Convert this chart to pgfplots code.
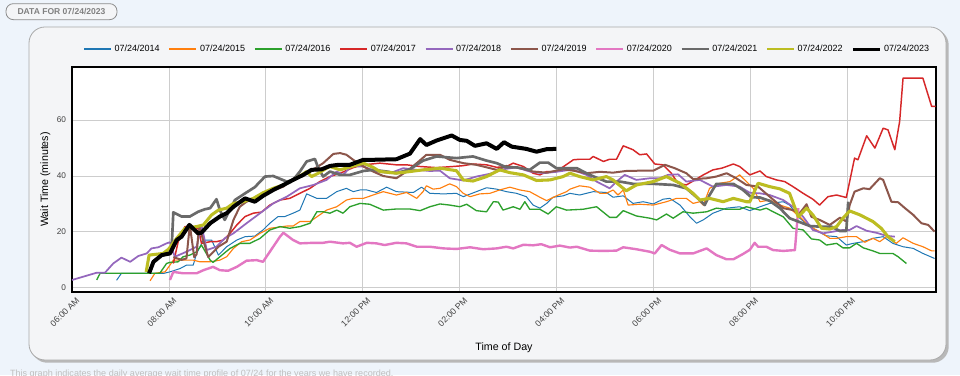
\documentclass[border=0pt]{standalone}
\usepackage{fontspec}
\setmainfont{Liberation Sans}
\usepackage{pgfplots}
\pgfplotsset{compat=1.18}
\definecolor{cA}{HTML}{1F77B4}
\definecolor{cB}{HTML}{FF7F0E}
\definecolor{cC}{HTML}{2CA02C}
\definecolor{cD}{HTML}{D62728}
\definecolor{cE}{HTML}{9467BD}
\definecolor{cF}{HTML}{8C564B}
\definecolor{cG}{HTML}{E377C2}
\definecolor{cH}{HTML}{6A6A6A}
\definecolor{cI}{HTML}{BCBD22}
\definecolor{bgblue}{HTML}{EEF4FB}
\definecolor{panel}{HTML}{F4F5F7}
\definecolor{panelborder}{HTML}{A9A9A9}
\definecolor{gridc}{HTML}{CDCDCD}
\definecolor{tickc}{HTML}{404040}
\begin{document}
\begin{tikzpicture}
\path[use as bounding box] (0pt,0pt) rectangle (720pt,281.25pt);
\fill[bgblue] (0pt,0pt) rectangle (720pt,281.25pt);
% shadow and panel
\fill[black!28, rounded corners=12pt] (23.5pt,9.2pt) rectangle (711.5pt,259.5pt);
\fill[panel, draw=panelborder, line width=0.6pt, rounded corners=12pt] (21.75pt,11.25pt) rectangle (709.5pt,261pt);
% top label
\draw[black!45, fill=panel, line width=0.6pt, rounded corners=5.5pt] (4.5pt,266.5pt) rectangle (87.75pt,278.5pt);
\node[text=black!50, font=\bfseries\fontsize{6.4}{7}\selectfont] at (46.1pt,272.4pt) {DATA FOR 07/24/2023};
% bottom caption (cut off)
\node[anchor=west, text=black!25, font=\fontsize{6.8}{7}\selectfont] at (4pt,0.6pt) {This graph indicates the daily average wait time profile of 07/24 for the years we have recorded.};
\begin{axis}[
  at={(54pt,62.25pt)}, anchor=south west,
  width=648pt, height=168.75pt, scale only axis,
  xmin=6, xmax=23.82, ymin=-1.5, ymax=79,
  xtick={6,8,...,22},
  xticklabels={06:00 AM,08:00 AM,10:00 AM,12:00 PM,02:00 PM,04:00 PM,06:00 PM,08:00 PM,10:00 PM},
  ytick={0,20,40,60},
  grid=major,
  major grid style={gridc, line width=0.7pt},
  axis line style={black, line width=1.1pt},
  major tick length=0pt,
  axis background/.style={fill=white},
  /pgf/number format/assume math mode=true,
  x tick label style={rotate=45, anchor=north east, font=\fontsize{6.5}{7}\selectfont, text=tickc, xshift=3pt, yshift=-1pt},
  y tick label style={font=\fontsize{6.2}{7}\selectfont, text=tickc, xshift=-1pt},
  xlabel={Time of Day},
  ylabel={Wait Time (minutes)},
  label style={font=\fontsize{8}{9}\selectfont},
  xlabel style={at={(0.5,0)}, anchor=center, yshift=-42pt},
  ylabel style={at={(0,0.5)}, anchor=center, yshift=20pt},
  legend columns=10,
  legend style={at={(0.504,1.078)}, anchor=center, draw=none, fill=none,
    font=\fontsize{6.75}{8}\selectfont,
    /tikz/every even column/.append style={column sep=4.5pt}},
  legend image code/.code={\draw[#1,line width=1.5pt] (0pt,0pt) -- (20.25pt,0pt);},
  every axis plot/.append style={line join=round},
]
% 2014
\addplot[cA, line width=0.75pt] coordinates {
(6.92,2.7) (7.02,5.2) (7.9,5.2) (8.02,5.7) (8.23,6.9) (8.36,8.1) (8.50,8.1) (8.57,12.3) (8.71,17.1) (8.88,17.1) (9.02,11.7) (9.19,14.7) (9.40,17.1) (9.57,18.3) (9.77,18.5) (9.94,20.7) (10.08,23.1) (10.25,25.5) (10.39,25.5) (10.56,26.7) (10.70,27.8) (10.84,33.6) (11.05,32) (11.25,32) (11.46,34.4) (11.66,35.6) (11.80,34.4) (11.94,35) (12.08,35) (12.28,34.1) (12.49,36) (12.69,34.4) (13.04,34.1) (13.21,36) (13.38,33.8) (13.66,33.6) (13.93,33.8) (14.07,32.6) (14.34,34.4) (14.55,35.8) (14.76,35.3) (14.96,34.4) (15.17,33.8) (15.37,32.6) (15.51,29.6) (15.65,28.5) (15.79,30.2) (15.92,32.4) (16.13,32.9) (16.27,33.8) (16.47,33.2) (16.75,34.4) (17.02,34.1) (17.16,32.4) (17.37,32.9) (17.57,30.2) (17.78,30.8) (17.99,30) (18.19,31.7) (18.33,32) (18.54,29.6) (18.74,25.5) (18.88,23.1) (19.02,24.3) (19.22,26.7) (19.50,28.5) (19.77,29) (19.98,27.6) (20.19,29) (20.39,30.2) (20.67,30.8) (20.80,29.6) (21.01,24.9) (21.22,21.9) (21.39,20.1) (21.56,18.6) (21.77,18.3) (21.97,15.3) (22.11,15.9) (22.32,16.5) (22.52,17.7) (22.73,18.3) (22.93,15.9) (23.14,14.7) (23.35,14.1) (23.55,12.3) (23.79,10.5)
};
\addlegendentry{07/24/2014}
% 2015
\addplot[cB, line width=0.85pt] coordinates {
(7.61,2.5) (7.71,5.2) (7.92,5.7) (8.02,8.1) (8.09,9.9) (8.29,9.9) (8.50,9.9) (8.64,9.3) (8.85,9.3) (9.05,9.9) (9.19,11.1) (9.33,14.1) (9.50,16.5) (9.67,17.1) (9.88,19.5) (10.08,21.3) (10.22,21.6) (10.43,22.1) (10.56,22.1) (10.70,23.7) (10.91,23.7) (11.11,26.1) (11.25,27.8) (11.46,29) (11.66,31.4) (11.80,32) (12.01,32) (12.21,33.2) (12.42,34.4) (12.69,33.2) (12.90,34.1) (13.11,32) (13.24,34.4) (13.31,36.5) (13.45,35.3) (13.59,35.6) (13.79,37.2) (13.93,36.2) (14.07,33.8) (14.21,32.6) (14.41,33.6) (14.62,33.8) (14.82,35) (15.03,36) (15.24,35) (15.44,34.4) (15.65,32.4) (15.79,31.2) (15.99,32.9) (16.20,34.4) (16.27,35.3) (16.47,36.5) (16.68,36) (16.89,33.8) (17.02,33.8) (17.16,35) (17.26,33.2) (17.37,35) (17.47,29.6) (17.71,29.9) (17.99,29.6) (18.26,30.8) (18.47,32) (18.67,32) (18.81,30.2) (18.95,30.8) (19.02,29.6) (19.15,35.6) (19.36,37.4) (19.57,38) (19.77,40.4) (19.91,38) (20.05,35.6) (20.19,30.8) (20.39,31.4) (20.60,29.6) (20.80,28.5) (21.01,25.4) (21.22,21.9) (21.42,20.1) (21.63,17.7) (21.77,17.7) (21.97,18.3) (22.18,18.3) (22.35,16.3) (22.52,17.7) (22.66,16.5) (22.80,18.3) (23.00,15.9) (23.14,17.9) (23.35,15.9) (23.55,14.7) (23.73,13.2) (23.79,13.2)
};
\addlegendentry{07/24/2015}
% 2016
\addplot[cC, line width=1pt] coordinates {
(6.51,2.8) (6.58,5.2) (7.81,5.2) (7.95,8.7) (8.02,9.1) (8.19,9.3) (8.29,11.1) (8.43,11.7) (8.57,12.9) (8.67,15.3) (8.85,9.9) (8.91,9.1) (9.05,11.1) (9.26,14.1) (9.46,15.9) (9.67,15.9) (9.88,17.7) (10.08,20.7) (10.29,21.9) (10.49,21.3) (10.70,21.9) (10.91,23.1) (11.05,27.2) (11.18,27.2) (11.32,26.7) (11.46,27.8) (11.59,26.7) (11.73,29) (11.94,30.2) (12.14,29.9) (12.42,27.8) (12.69,28.2) (12.97,28.2) (13.18,27.6) (13.38,29) (13.59,30) (13.79,29.6) (14.00,29) (14.14,29.9) (14.34,27.6) (14.55,27.2) (14.69,30.8) (14.79,30.7) (14.89,27.8) (15.10,29) (15.24,28.1) (15.34,30.8) (15.44,28.1) (15.65,28.1) (15.82,26.4) (15.99,29) (16.20,27.8) (16.54,28.1) (16.82,29) (17.09,25.2) (17.23,25.2) (17.37,27.6) (17.64,25.7) (17.92,24.9) (18.06,24.3) (18.26,26.4) (18.40,24.9) (18.60,27.2) (18.81,26.7) (19.09,27.2) (19.29,28.5) (19.50,28.1) (19.77,28.1) (19.91,29) (20.19,27.8) (20.32,28.5) (20.46,27.2) (20.67,25.4) (20.87,21.3) (21.08,20.7) (21.25,17.5) (21.42,17.1) (21.56,15.3) (21.77,15.9) (21.90,14.3) (22.04,14.3) (22.18,15.9) (22.32,14.3) (22.52,13.2) (22.66,12.3) (22.93,12.3) (23.04,11.1) (23.21,8.7)
};
\addlegendentry{07/24/2016}
% 2017
\addplot[cD, line width=1.1pt] coordinates {
(8.09,8.7) (8.19,16.5) (8.33,21.9) (8.43,21.9) (8.54,20.1) (8.60,22) (8.67,15.9) (8.85,16.5) (8.98,16.5) (9.12,17.1) (9.26,19.5) (9.40,22.5) (9.57,25.5) (9.74,26.7) (9.91,27.1) (10.08,29.6) (10.29,31.4) (10.49,32) (10.70,33.8) (10.91,35.6) (11.11,38) (11.32,39.8) (11.53,41) (11.80,43) (12.01,44) (12.35,44.6) (12.69,44) (12.90,44) (13.18,43.4) (13.52,43) (13.86,43.4) (14.07,43.7) (14.27,44.3) (14.55,44) (14.76,43.1) (14.96,43.4) (15.10,44.6) (15.31,43.4) (15.51,41) (15.65,40.4) (15.79,41.6) (15.99,41.6) (16.34,45.8) (16.47,46) (16.68,46) (16.75,47) (16.96,45.2) (17.09,46) (17.23,46) (17.37,50.8) (17.57,49.4) (17.71,47.6) (17.85,47.9) (18.02,44.3) (18.19,44) (18.36,41) (18.50,37.4) (18.67,36.8) (18.85,38.6) (19.02,40.4) (19.22,42.2) (19.40,42.8) (19.50,43.4) (19.64,44.3) (19.77,43.4) (19.98,40.4) (20.19,41.8) (20.32,39.8) (20.53,38.6) (20.70,38) (20.87,36.2) (21.08,33.8) (21.28,31.7) (21.42,29.6) (21.59,32.6) (21.77,33.2) (21.97,32.3) (22.14,46.4) (22.21,45.8) (22.39,54.4) (22.56,50) (22.73,57.1) (22.83,56.5) (22.97,49.4) (23.07,59.5) (23.14,75) (23.55,75) (23.73,64.9) (23.81,64.9)
};
\addlegendentry{07/24/2017}
% 2018
\addplot[cE, line width=1.3pt] coordinates {
(6.00,2.8) (6.51,5.4) (6.68,5.4) (6.85,8.7) (7.02,10.8) (7.20,9.3) (7.37,11.4) (7.54,12.3) (7.64,14.1) (7.78,14.5) (7.95,15.9) (8.02,16.3) (8.12,11.1) (8.36,12.9) (8.57,14.7) (8.67,22.5) (8.78,13.5) (8.98,14.7) (9.15,17.7) (9.33,19.5) (9.60,23.1) (9.88,26.7) (10.15,30.2) (10.43,32.6) (10.70,35.6) (10.98,36.8) (11.25,38.6) (11.46,41.6) (11.59,40.4) (11.76,43.5) (12.01,43.4) (12.28,41.6) (12.56,41) (12.83,42.8) (13.11,42.2) (13.38,41.8) (13.59,41.9) (13.79,39.2) (14.07,38.4) (14.34,39.8) (14.62,40.8) (14.89,42.4) (15.17,43.1) (15.44,41.6) (15.72,41) (15.99,41.5) (16.27,42.2) (16.34,42.2) (16.61,40.4) (16.82,38) (17.09,35.6) (17.23,38) (17.40,40.4) (17.64,38.6) (17.92,39.2) (18.12,39.2) (18.29,40.4) (18.50,40.6) (18.67,38) (18.95,38.6) (19.22,36.2) (19.50,36.8) (19.77,36.2) (19.98,34) (20.19,33.8) (20.39,33.2) (20.67,31.4) (20.87,29) (21.08,25.4) (21.28,20.7) (21.49,19.5) (21.70,20.1) (21.90,20.7) (22.04,20.7) (22.18,22.1) (22.39,20.4) (22.59,19.7) (22.80,18.6) (22.97,18.3)
};
\addlegendentry{07/24/2018}
% 2019
\addplot[cF, line width=1.5pt] coordinates {
(8.09,11) (8.26,10) (8.36,10.5) (8.43,22.5) (8.52,11) (8.57,12) (8.62,22) (8.81,11) (9.02,14.7) (9.19,16.5) (9.33,24.3) (9.46,29) (9.60,30.8) (9.81,32.4) (10.08,34.4) (10.36,36.2) (10.63,39.8) (10.91,41.6) (11.18,44.6) (11.39,47.9) (11.53,48.2) (11.66,47.6) (11.80,45.8) (12.01,43.4) (12.21,41.6) (12.42,40) (12.69,39.2) (12.90,41.6) (13.11,44.6) (13.31,47.6) (13.59,47.6) (13.79,45.8) (14.07,44.6) (14.34,44) (14.62,42.8) (14.76,42.2) (14.96,43.6) (15.24,42.8) (15.51,41.6) (15.79,41.2) (16.13,42.4) (16.34,41.9) (16.61,41) (16.89,41.5) (17.16,41.2) (17.43,41.8) (17.71,41.9) (17.99,41.9) (18.23,44) (18.43,42.8) (18.67,41) (18.81,38.9) (19.09,39.2) (19.29,39.8) (19.50,41) (19.70,39.2) (19.91,36.8) (20.15,36.2) (20.39,32.6) (20.67,28.5) (20.87,27.8) (21.01,26.7) (21.15,29.9) (21.25,25.4) (21.42,24.3) (21.63,22.5) (21.84,25.1) (21.97,23.7) (22.04,29.6) (22.14,34.4) (22.32,35.6) (22.45,35.3) (22.66,39.2) (22.73,38.6) (22.90,30.8) (23.04,30.6) (23.18,28.5) (23.35,26.1) (23.52,23.1) (23.66,22.5) (23.79,20.1)
};
\addlegendentry{07/24/2019}
% 2020
\addplot[cG, line width=1.8pt] coordinates {
(8.02,2.8) (8.09,5.7) (8.29,5.2) (8.57,5.2) (8.71,6.3) (8.91,7.5) (9.05,6.3) (9.22,6.1) (9.40,7.5) (9.60,9.7) (9.81,9.9) (9.94,9.3) (10.15,14.7) (10.29,18.3) (10.36,19.7) (10.56,17.1) (10.70,15.9) (10.98,16.1) (11.18,16.1) (11.32,16.5) (11.59,15.9) (11.73,16.1) (11.87,14.7) (12.08,16.1) (12.28,15.9) (12.45,15.3) (12.69,16.1) (12.90,15.9) (13.11,14.7) (13.38,14.7) (13.66,14.1) (13.93,13.9) (14.21,14.5) (14.48,13.8) (14.76,14.1) (14.96,14.7) (15.10,14.1) (15.31,15.4) (15.51,15.2) (15.68,15.6) (15.86,14.5) (16.06,15.1) (16.27,14.4) (16.41,14.7) (16.68,13.3) (16.96,13.2) (17.23,13.3) (17.37,14.5) (17.64,13.8) (17.92,12.9) (18.02,12.3) (18.16,15.3) (18.33,13.6) (18.54,12.3) (18.81,12.3) (19.09,14.1) (19.29,11.7) (19.50,10.2) (19.64,10.2) (19.84,12.1) (19.98,13.6) (20.08,16.1) (20.15,14.7) (20.32,14.7) (20.46,13.5) (20.67,13.2) (20.91,13.5) (20.98,28.5)
};
\addlegendentry{07/24/2020}
% 2021
\addplot[cH, line width=2pt] coordinates {
(8.05,12.4) (8.09,27) (8.26,25.5) (8.43,25.5) (8.60,27.2) (8.74,28.1) (8.85,28.5) (8.98,31.7) (9.05,27.8) (9.15,24.3) (9.22,26.7) (9.36,31.4) (9.57,33.8) (9.77,36) (9.98,39.8) (10.15,40) (10.29,39) (10.43,38) (10.56,38.6) (10.70,41.6) (10.84,45.2) (11.01,46.1) (11.08,42.8) (11.18,39.8) (11.32,41.6) (11.53,40.4) (11.73,40.4) (12.01,41.8) (12.21,42.2) (12.49,41.6) (12.69,41) (12.97,42.4) (13.24,45.5) (13.52,47) (13.93,46.4) (14.27,47) (14.55,45.5) (14.76,44.6) (14.96,43.1) (15.17,43.1) (15.44,42.2) (15.65,44.8) (15.82,44.8) (15.99,42.8) (16.20,42.8) (16.41,42.8) (16.68,40.4) (17.02,38) (17.30,38) (17.57,37.2) (17.99,37.2) (18.40,36.8) (18.67,35.6) (18.95,31.4) (19.05,29.6) (19.15,33.2) (19.29,37.2) (19.64,37.2) (19.84,35) (20.01,32.4) (20.19,32.3) (20.39,31.1) (20.60,28.5) (20.80,24.9) (20.98,23.7) (21.22,22.1) (21.42,21.9) (21.66,21.9) (21.84,20.3) (21.97,20.3) (22.01,30.8)
};
\addlegendentry{07/24/2021}
% 2022
\addplot[cI, line width=2.3pt] coordinates {
(7.53,5.7) (7.59,11.7) (7.88,12.3) (7.99,13.8) (8.16,17.7) (8.33,21.3) (8.57,21.9) (8.71,22.5) (8.88,26.1) (9.02,27.8) (9.19,28.5) (9.33,30.2) (9.53,30.8) (9.74,32) (9.94,34) (10.15,35.6) (10.36,36.8) (10.56,38.6) (10.74,40.4) (10.84,41.6) (10.94,39.8) (11.08,41) (11.25,42.8) (11.32,43.4) (11.53,42.2) (12.01,44.6) (12.21,43.1) (12.35,41.6) (12.69,41) (12.97,41.6) (13.24,42.2) (13.59,42.8) (13.93,41.9) (14.07,38.6) (14.27,38.2) (14.55,39.8) (14.82,42.2) (15.03,41.2) (15.31,40.4) (15.58,38.4) (15.86,38.6) (16.13,39.8) (16.27,41) (16.47,39.8) (16.75,38.6) (17.02,39.8) (17.16,38.6) (17.43,34.7) (17.64,36.8) (17.99,38) (18.26,39.8) (18.54,37.4) (18.81,33.8) (18.95,31.4) (19.15,32) (19.43,30.8) (19.64,32) (19.91,30.8) (19.98,30.8) (20.15,37.4) (20.39,36.2) (20.60,35.4) (20.80,33.8) (20.98,25.4) (21.15,28.5) (21.28,26.1) (21.46,21.3) (21.63,21) (21.77,21.9) (21.90,24.9) (22.04,27.5) (22.25,26.1) (22.52,23.7) (22.69,21.3) (22.83,18.3) (22.97,16.5)
};
\addlegendentry{07/24/2022}
% 2023
\addplot[black, line width=3pt, legend image code/.code={\draw[black,line width=2.3pt] (0pt,0pt) -- (20.25pt,0pt);}] coordinates {
(7.59,5.2) (7.68,9.3) (7.85,11.7) (8.02,12.3) (8.16,17.1) (8.26,18.3) (8.42,22.5) (8.60,19.5) (8.67,19.7) (8.85,23.1) (9.05,25.5) (9.19,26.7) (9.33,29) (9.57,32) (9.77,30.8) (9.94,32.9) (10.15,35) (10.36,36.8) (10.56,38.6) (10.77,40.4) (10.94,42.2) (11.15,42.4) (11.32,43.6) (11.49,44) (11.73,44) (12.01,45.8) (12.21,45.8) (12.69,46) (12.97,48) (13.18,53.2) (13.31,51.1) (13.52,52.7) (13.83,54.5) (14.00,52.9) (14.14,52.6) (14.31,50.8) (14.55,51.7) (14.76,49.7) (14.91,52.1) (15.07,50.5) (15.37,49.7) (15.58,48.7) (15.79,49.6) (15.99,49.7)
};
\addlegendentry{07/24/2023}
\end{axis}
\end{tikzpicture}
\end{document}
